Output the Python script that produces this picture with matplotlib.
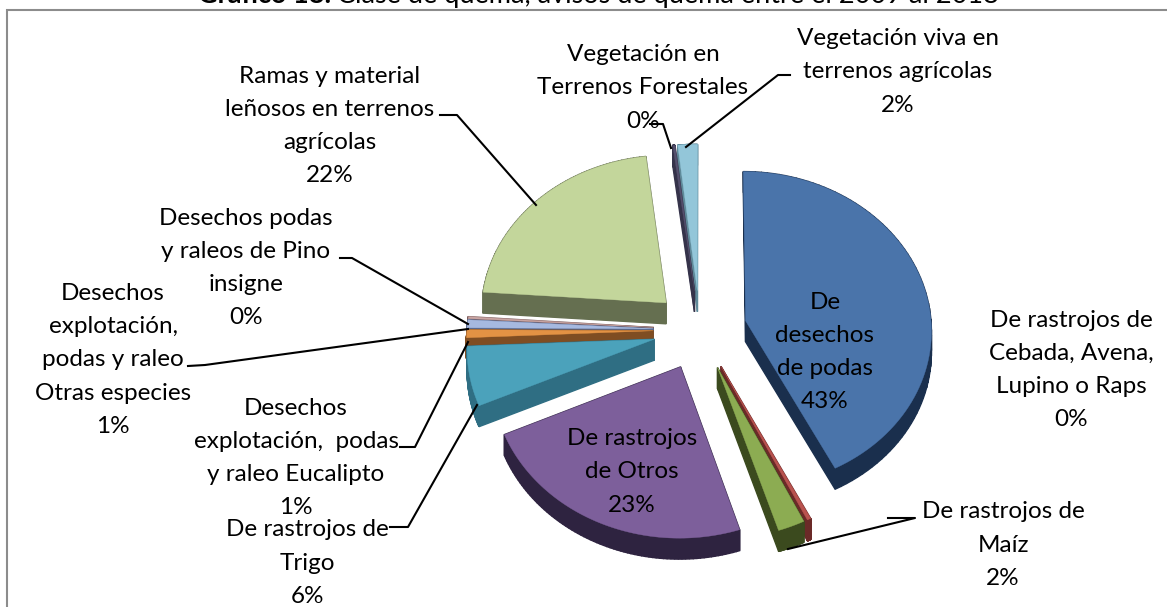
import matplotlib
matplotlib.use('Agg')
import matplotlib.pyplot as plt
import numpy as np
from matplotlib.patches import Polygon, Rectangle

labels = ['De\ndesechos\nde podas',
          'De rastrojos de\nCebada, Avena,\nLupino o Raps',
          'De rastrojos de\nMaíz',
          'De rastrojos\nde Otros',
          'De rastrojos de\nTrigo',
          'Desechos\nexplotación,  podas\ny raleo Eucalipto',
          'Desechos\nexplotación,\npodas y raleo\nOtras especies',
          'Desechos podas\ny raleos de Pino\ninsigne',
          'Ramas y material\nleñosos en terrenos\nagrícolas',
          'Vegetación en\nTerrenos Forestales',
          'Vegetación viva en\nterrenos agrícolas']
values = [42.6, 0.3, 2.2, 23.2, 6.0, 0.8, 0.8, 0.2, 21.9, 0.2, 1.8]
top_colors = ['#4a74aa', '#b9534f', '#8cac52', '#7d5f9b', '#4ba2bb', '#e39244',
              '#a6b9e0', '#c9a5a3', '#c3d69b', '#55506e', '#93c6d9']
side_colors = ['#1a2f4d', '#6b2a28', '#3b4a1e', '#2e2340', '#2f6e83', '#7f4d22',
               '#5a6a90', '#7a5a5a', '#656f50', '#35334a', '#5f8a9a']

# label centre and leader line, in image pixels
label_pos = [(825, 352), (1071, 370), (1003, 545), (632, 472), (307, 563),
             (296, 458), (113, 360), (246, 268), (330, 126), (643, 88), (898, 72)]
leaders = [None, None,
           [(888, 518), (915, 518), (788, 549)],
           None,
           [(390, 527), (408, 527), (477, 405)],
           [(400, 447), (415, 447), (468, 342)],
           [(188, 366), (205, 365), (468, 329)],
           [(340, 258), (352, 258), (468, 324)],
           [(440, 115), (457, 115), (536, 205)],
           [(650, 124), (663, 124), (671, 148)],
           [(790, 75), (778, 75), (686, 147)]]

cx, cy = 700, 330
radius = 186
squash = 0.85
persp = 0.053
explode = 47
depth = 21


def project(x, y):
    w = 1 + persp * y / radius
    return cx + x / w, cy - squash * y / w


def wedge(start, end):
    # angles clockwise from 12 o'clock, degrees
    a = np.radians(np.linspace(start, end, 80))
    mid = np.radians((start + end) / 2)
    ox, oy = explode * np.sin(mid), explode * np.cos(mid)
    xs = np.r_[ox, ox + radius * np.sin(a)]
    ys = np.r_[oy, oy + radius * np.cos(a)]
    px, py = project(xs, ys)
    return np.c_[px, py], oy


fig = plt.figure(figsize=(11.67, 6.07), dpi=100)
plt.rcParams['font.family'] = ['Lato', 'DejaVu Sans']
ax = fig.add_axes([0, 0, 1, 1])
ax.set_xlim(0, 1167)
ax.set_ylim(607, 0)
ax.axis('off')

ax.add_patch(Rectangle((6.5, 10), 1170, 610, fc='white', ec='#8c8c8c', lw=1.5, zorder=0))
ax.text(331, 3, 'Gráfico 18:', fontsize=19.5, va='baseline', ha='right', fontweight='bold')
ax.text(337, 3, 'Clase de quema, avisos de quema entre el 2009 al 2018', fontsize=19.5,
        va='baseline', ha='left')

fracs = np.array(values) / sum(values) * 360
stops = np.r_[0, np.cumsum(fracs)]
slices = []
for i in range(len(values)):
    pts, oy = wedge(stops[i], stops[i + 1])
    slices.append((oy, i, pts))

for n, (oy, i, pts) in enumerate(sorted(slices, key=lambda s: -s[0])):
    z = 2 + n
    closed = np.r_[pts, pts[:1]]
    for p, q in zip(closed[:-1], closed[1:]):
        quad = [p, q, q + (0, depth), p + (0, depth)]
        ax.add_patch(Polygon(quad, fc=side_colors[i], ec=side_colors[i], lw=1, zorder=z))
    ax.add_patch(Polygon(pts, fc=top_colors[i], ec=top_colors[i], lw=0.3, zorder=z + 0.5))

for i, (lab, pos) in enumerate(zip(labels, label_pos)):
    ax.text(pos[0], pos[1], f'{lab}\n{round(values[i])}%', ha='center', va='center',
            fontsize=17.5, linespacing=1.72, color='black', zorder=30)
for line in leaders:
    if line:
        xs, ys = zip(*line)
        ax.plot(xs, ys, color='black', lw=1.5, zorder=25)

fig.savefig('out.png', dpi=100)
